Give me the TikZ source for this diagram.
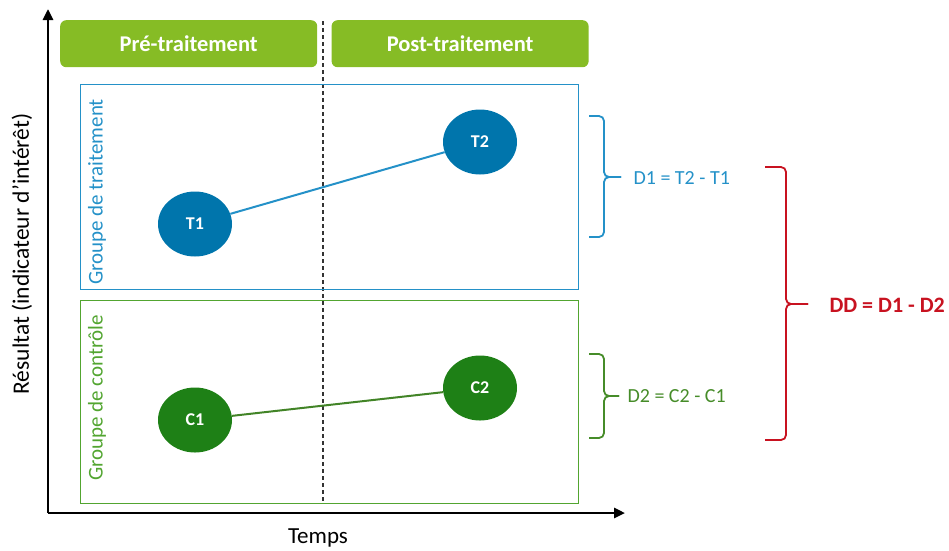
\documentclass[tikz,border=0pt]{standalone}
\usepackage{fontspec}
\setmainfont{Carlito}
\usepackage{xcolor}
\usetikzlibrary{arrows.meta,shapes.geometric,positioning}

\definecolor{phasegreen}{RGB}{134,188,37}
\definecolor{tblue}{RGB}{0,117,172}
\definecolor{tbluelight}{RGB}{36,145,200}
\definecolor{cgreen}{RGB}{30,128,22}
\definecolor{cgreenlight}{RGB}{82,165,48}
\definecolor{ddred}{RGB}{200,18,32}

\begin{document}
\begin{tikzpicture}[x=1pt,y=-1pt,
    phase/.style={fill=phasegreen,rounded corners=6pt,minimum width=257pt,minimum height=47pt,text=white,font=\fontsize{22.5}{26}\selectfont\bfseries},
    groupbox/.style={draw,line width=1.4pt,minimum width=498pt,anchor=north west},
    grouplabel/.style={rotate=90,font=\fontsize{21}{25}\selectfont},
    point/.style={ellipse,minimum width=74pt,minimum height=65pt,text=white,font=\fontsize{18}{21}\selectfont\bfseries},
    link/.style={line width=2pt},
    axis/.style={line width=2.6pt,-{Triangle[length=11pt,width=10pt]}},
    bracket/.style={line width=1.8pt,rounded corners=5pt},
    result/.style={anchor=west,font=\fontsize{20}{24}\selectfont}]
  \useasboundingbox (0,0) rectangle (949,550);

  % axes
  \coordinate (origin) at (48,513);
  \coordinate (ytop) at (48,9);
  \coordinate (xend) at (625,513);
  \draw[axis] (origin) -- (ytop);
  \draw[axis] (origin) -- (xend);
  \node[font=\fontsize{23}{27}\selectfont] (temps) at (318,538) {Temps};
  \node[rotate=90,font=\fontsize{23.5}{27}\selectfont] (yaxis) at (22,254) {Résultat (indicateur d’intérêt)};

  % phases
  \node[phase,anchor=north west] (pre) at (60,20) {Pré-traitement};
  \node[phase,anchor=north west,right=14pt of pre] (post) {Post-traitement};
  \coordinate (cut) at (323,21);
  \coordinate (cutend) at (323,503);
  \draw[line width=1.2pt,dash pattern=on 4pt off 3pt,black!80] (cut) -- (cutend);

  % groups
  \node[groupbox,draw=tbluelight,minimum height=205pt] (tbox) at (80,84) {};
  \node[groupbox,draw=cgreenlight,minimum height=203pt] (cbox) at (80,300) {};
  \node[grouplabel,text=tbluelight] (tlab) at (97,192) {Groupe de traitement};
  \node[grouplabel,text=cgreenlight] (clab) at (97,398) {Groupe de contrôle};

  \node[point,fill=tblue] (t1) at (195,224) {T1};
  \node[point,fill=tblue] (t2) at (480,142) {T2};
  \node[point,fill=cgreen] (c1) at (195,420) {C1};
  \node[point,fill=cgreen] (c2) at (480,388) {C2};
  \draw[link,tbluelight] (t1) -- (t2);
  \draw[link,cgreenlight!80!black] (c1) -- (c2);

  % differences
  \coordinate (b1top) at (589,116);
  \coordinate (b1bot) at (589,237);
  \coordinate (b1tip) at (621,177);
  \coordinate (b2top) at (589,354);
  \coordinate (b2bot) at (589,438);
  \coordinate (b2tip) at (619,396);
  \coordinate (b3top) at (765,167);
  \coordinate (b3bot) at (765,440);
  \coordinate (b3tip) at (808,304);
  \draw[bracket,tbluelight] (b1top) -- ++(15,0) |- (b1tip);
  \draw[bracket,tbluelight] (b1bot) -- ++(15,0) |- (b1tip);
  \draw[bracket,cgreenlight!85!black] (b2top) -- ++(15,0) |- (b2tip);
  \draw[bracket,cgreenlight!85!black] (b2bot) -- ++(15,0) |- (b2tip);
  \draw[bracket,ddred] (b3top) -- ++(21,0) |- (b3tip);
  \draw[bracket,ddred] (b3bot) -- ++(21,0) |- (b3tip);
  \node[result,text=tbluelight] (d1) at (630,178) {D1 = T2 - T1};
  \node[result,text=cgreenlight!85!black] (d2) at (624,396) {D2 = C2 - C1};
  \node[result,text=ddred,font=\fontsize{22}{26}\selectfont\bfseries] (dd) at (826,305) {DD = D1 - D2};
\end{tikzpicture}
\end{document}
